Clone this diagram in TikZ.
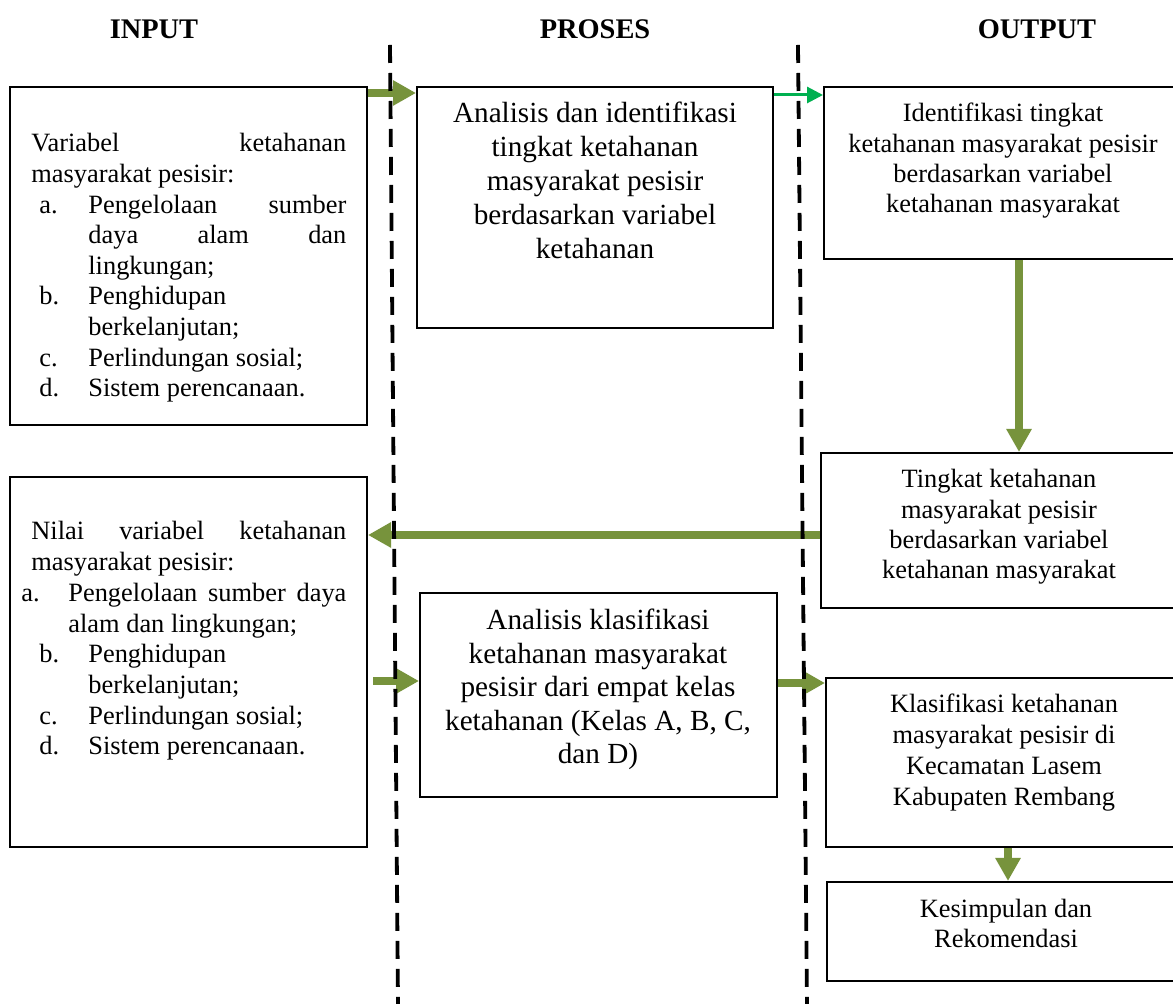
\documentclass[tikz,border=0pt]{standalone}
\usepackage{fontspec}
\setmainfont{Liberation Serif}
\usetikzlibrary{arrows.meta,fit}
\definecolor{oliveG}{HTML}{77933C}
\definecolor{brightG}{HTML}{00B050}
\tikzset{
  box/.style={draw=black, line width=1pt, inner sep=0pt},
  oarrow/.style={draw=oliveG, line width=4pt, -{Triangle[width=12pt,length=11.5pt]}},
  garrow/.style={draw=brightG, line width=1.5pt, -{Triangle[width=8pt,length=8pt]}},
  dline/.style={draw=black, line width=1.9pt, dash pattern=on 9pt off 5pt},
  title/.style={font=\fontsize{14.2}{17}\selectfont\bfseries, inner sep=0pt, anchor=base},
  txt/.style={inner sep=0pt, anchor=base},
}
\begin{document}
\begin{tikzpicture}[x=0.5pt,y=-0.5pt]
\useasboundingbox (0,0) rectangle (1173,1004);
\clip (0,0) rectangle (1173,1004);
\fill[white] (0,0) rectangle (1173,1004);
% titles
\node[title] (tin) at (154,39) {INPUT};
\node[title] (tpr) at (595,39) {PROSES};
\node[title] (tout) at (1037,39) {OUTPUT};
% boxes
\node[box, fit={(10,87)(367,425)}] (in1) {};
\node[box, fit={(417,87)(773,328)}] (pr1) {};
\node[box, fit={(824,87)(1185,259)}] (out1) {};
\node[box, fit={(821,453)(1185,608)}] (out2) {};
\node[box, fit={(10,477)(367,847)}] (in2) {};
\node[box, fit={(420,593)(777,797)}] (pr2) {};
\node[box, fit={(826,678)(1185,847)}] (out3) {};
\node[box, fit={(827,882)(1185,981)}] (out4) {};
% texts
\node[txt, anchor=base west] (tx1) at (31,152) {\parbox[t]{157.5pt}{\fontsize{13.2}{15.3}\selectfont
\hbox to 157.5pt{Variabel\hfill ketahanan}
\hbox{masyarakat pesisir:}
\hbox{\hspace*{4pt}\makebox[24.5pt][l]{a.}\hbox to 129pt{Pengelolaan\hfill sumber}}
\hbox{\hspace*{28.5pt}\hbox to 129pt{daya\hfill alam\hfill dan}}
\hbox{\hspace*{28.5pt}lingkungan;}
\hbox{\hspace*{4pt}\makebox[24.5pt][l]{b.}Penghidupan}
\hbox{\hspace*{28.5pt}berkelanjutan;}
\hbox{\hspace*{4pt}\makebox[24.5pt][l]{c.}Perlindungan sosial;}
\hbox{\hspace*{4pt}\makebox[24.5pt][l]{d.}Sistem perencanaan.}
}};
\node[txt, anchor=base west] (tx5) at (21,540) {\parbox[t]{162.5pt}{\fontsize{13.2}{15.35}\selectfont
\hbox{\hspace*{5pt}\hbox to 157.5pt{Nilai\hfill variabel\hfill ketahanan}}
\hbox{\hspace*{5pt}masyarakat pesisir:}
\hbox{\makebox[23.5pt][l]{a.}\hbox to 139pt{Pengelolaan\hfill sumber\hfill daya}}
\hbox{\hspace*{23.5pt}alam dan lingkungan;}
\hbox{\hspace*{9pt}\makebox[24.5pt][l]{b.}Penghidupan}
\hbox{\hspace*{33.5pt}berkelanjutan;}
\hbox{\hspace*{9pt}\makebox[24.5pt][l]{c.}Perlindungan sosial;}
\hbox{\hspace*{9pt}\makebox[24.5pt][l]{d.}Sistem perencanaan.}
}};
\node[txt] (tx2) at (595,123) {\parbox[t]{176pt}{\centering\fontsize{14.6}{16.9}\selectfont Analisis dan identifikasi\\tingkat ketahanan\\masyarakat pesisir\\berdasarkan variabel\\ketahanan}};
\node[txt] (tx3) at (1003,122) {\parbox[t]{176pt}{\centering\fontsize{13.2}{15.15}\selectfont Identifikasi tingkat\\ketahanan masyarakat pesisir\\berdasarkan variabel\\ketahanan masyarakat}};
\node[txt] (tx4) at (999,488) {\parbox[t]{176pt}{\centering\fontsize{13.2}{15.15}\selectfont Tingkat ketahanan\\masyarakat pesisir\\berdasarkan variabel\\ketahanan masyarakat}};
\node[txt] (tx6) at (598,630) {\parbox[t]{176pt}{\centering\fontsize{14.6}{16.7}\selectfont Analisis klasifikasi\\ketahanan masyarakat\\pesisir dari empat kelas\\ketahanan (Kelas A, B, C,\\dan D)}};
\node[txt] (tx7) at (1004,713) {\parbox[t]{176pt}{\centering\fontsize{13.2}{15.35}\selectfont Klasifikasi ketahanan\\masyarakat pesisir di\\Kecamatan Lasem\\Kabupaten Rembang}};
\node[txt] (tx8) at (1006,917) {\parbox[t]{176pt}{\centering\fontsize{13.2}{15.1}\selectfont Kesimpulan dan\\Rekomendasi}};
% arrows
\coordinate (h93) at (0,93);
\draw[oarrow] (in1.east |- h93) -- (pr1.west |- h93);
\coordinate (h95) at (0,95);
\draw[garrow] (pr1.east |- h95) -- (out1.west |- h95);
\coordinate (v1019) at (1019,0);
\draw[oarrow] (out1.south -| v1019) -- (out2.north -| v1019);
\coordinate (h535) at (0,535);
\draw[oarrow] (out2.west |- h535) -- (in2.east |- h535);
\coordinate (a5s) at (373,681);
\draw[oarrow] (a5s) -- (pr2.west |- a5s);
\coordinate (h683) at (0,683);
\draw[oarrow] (pr2.east |- h683) -- (out3.west |- h683);
\coordinate (v1008) at (1008,0);
\draw[oarrow] (out3.south -| v1008) -- (out4.north -| v1008);
% dashed separators
\coordinate (d1a) at (390,45);
\coordinate (d1b) at (398,1004);
\coordinate (d2a) at (798,45);
\coordinate (d2b) at (807,1004);
\draw[dline] (d1a) -- (d1b);
\draw[dline] (d2a) -- (d2b);
\end{tikzpicture}
\end{document}
